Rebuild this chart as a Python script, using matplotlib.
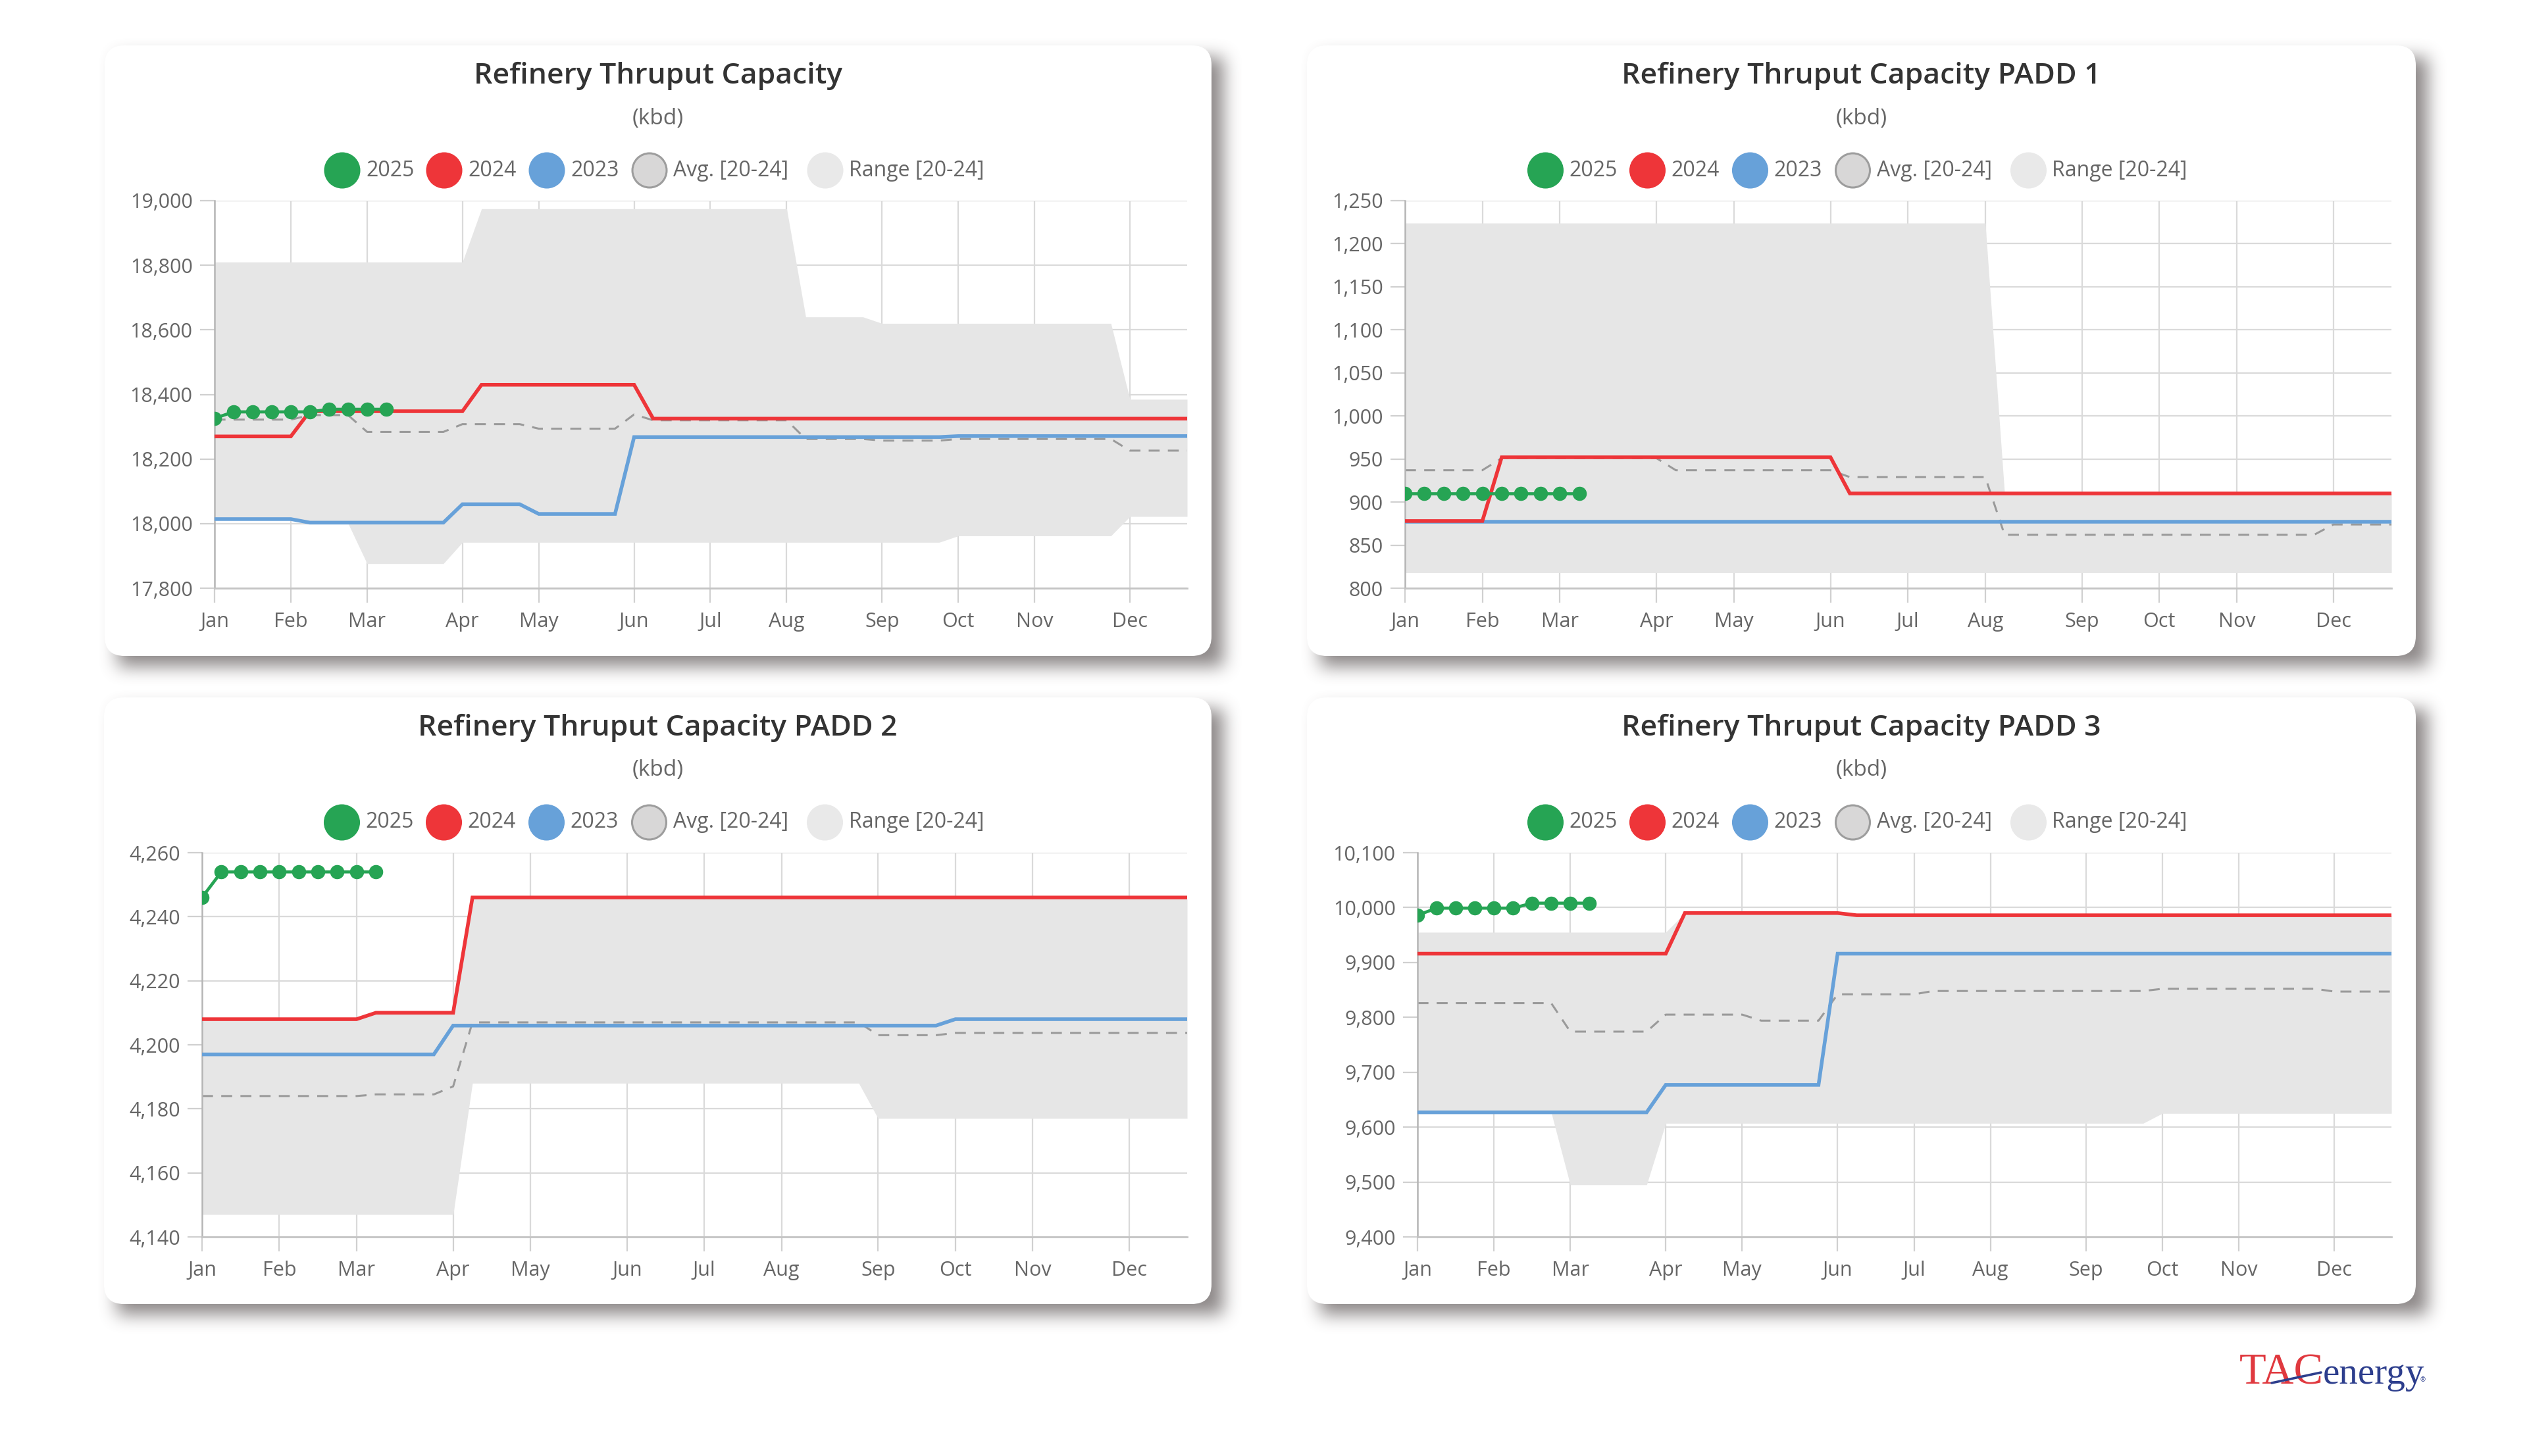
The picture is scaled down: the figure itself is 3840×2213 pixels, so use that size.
import numpy as np
import matplotlib
matplotlib.use("Agg")
import matplotlib.pyplot as plt
from matplotlib.patches import FancyBboxPatch, Circle
from matplotlib.transforms import IdentityTransform
from matplotlib.lines import Line2D

plt.rcParams['font.family'] = ['Open Sans', 'DejaVu Sans']
plt.rcParams['lines.scale_dashes'] = False

W, H = 3840, 2213

months = ['Jan', 'Feb', 'Mar', 'Apr', 'May', 'Jun', 'Jul', 'Aug', 'Sep', 'Oct', 'Nov', 'Dec']
month_weeks = [0, 4, 8, 13, 17, 22, 26, 30, 35, 39, 43, 48]
weeks = np.arange(52)
weeks_2025 = np.arange(10)

# ---- US total ----
us_upper = [18810, 18810, 18810, 18810, 18810, 18810, 18810, 18810, 18810, 18810, 18810, 18810, 18810,
            18810, 18975, 18975, 18975, 18975, 18975, 18975, 18975, 18975, 18975, 18975, 18975, 18975,
            18975, 18975, 18975, 18975, 18975, 18640, 18640, 18640, 18640, 18620, 18620, 18620, 18620,
            18620, 18620, 18620, 18620, 18620, 18620, 18620, 18620, 18620, 18385, 18385, 18385, 18385]
us_lower = [18012, 18012, 18012, 18012, 18012, 18001, 18001, 18001, 17876, 17876, 17876, 17876, 17876,
            17942, 17942, 17942, 17942, 17942, 17942, 17942, 17942, 17942, 17942, 17942, 17942, 17942,
            17942, 17942, 17942, 17942, 17942, 17942, 17942, 17942, 17942, 17942, 17942, 17942, 17942,
            17962, 17962, 17962, 17962, 17962, 17962, 17962, 17962, 17962, 18022, 18022, 18022, 18022]
us_2024 = [18270, 18270, 18270, 18270, 18270, 18348, 18348, 18348, 18348, 18348, 18348, 18348, 18348,
           18348, 18430, 18430, 18430, 18430, 18430, 18430, 18430, 18430, 18430, 18325, 18325, 18325,
           18325, 18325, 18325, 18325, 18325, 18325, 18325, 18325, 18325, 18325, 18325, 18325, 18325,
           18325, 18325, 18325, 18325, 18325, 18325, 18325, 18325, 18325, 18325, 18325, 18325, 18325]
us_2023 = [18014, 18014, 18014, 18014, 18014, 18003, 18003, 18003, 18003, 18003, 18003, 18003, 18003,
           18060, 18060, 18060, 18060, 18030, 18030, 18030, 18030, 18030, 18268, 18268, 18268, 18268,
           18268, 18268, 18268, 18268, 18268, 18268, 18268, 18268, 18268, 18268, 18268, 18268, 18268,
           18271, 18271, 18271, 18271, 18271, 18271, 18271, 18271, 18271, 18271, 18271, 18271, 18271]
us_avg = [18322, 18322, 18322, 18322, 18322, 18336, 18336, 18336, 18284, 18284, 18284, 18284, 18284,
          18308, 18308, 18308, 18308, 18294, 18294, 18294, 18294, 18294, 18338, 18320, 18320, 18320,
          18320, 18320, 18320, 18320, 18320, 18262, 18262, 18262, 18262, 18257, 18257, 18257, 18257,
          18262, 18262, 18262, 18262, 18262, 18262, 18262, 18262, 18262, 18226, 18226, 18226, 18226]
us_2025 = [18326, 18346, 18346, 18346, 18346, 18346, 18354, 18354, 18354, 18354]

# ---- PADD 1 ----
p1_upper = [1224, 1224, 1224, 1224, 1224, 1224, 1224, 1224, 1224, 1224, 1224, 1224, 1224,
            1224, 1224, 1224, 1224, 1224, 1224, 1224, 1224, 1224, 1224, 1224, 1224, 1224,
            1224, 1224, 1224, 1224, 1224, 910, 910, 910, 910, 910, 910, 910, 910,
            910, 910, 910, 910, 910, 910, 910, 910, 910, 910, 910, 910, 910]
p1_lower = [818, 818, 818, 818, 818, 818, 818, 818, 818, 818, 818, 818, 818,
            818, 818, 818, 818, 818, 818, 818, 818, 818, 818, 818, 818, 818,
            818, 818, 818, 818, 818, 818, 818, 818, 818, 818, 818, 818, 818,
            818, 818, 818, 818, 818, 818, 818, 818, 818, 818, 818, 818, 818]
p1_2024 = [878, 878, 878, 878, 878, 952, 952, 952, 952, 952, 952, 952, 952,
           952, 952, 952, 952, 952, 952, 952, 952, 952, 952, 910, 910, 910,
           910, 910, 910, 910, 910, 910, 910, 910, 910, 910, 910, 910, 910,
           910, 910, 910, 910, 910, 910, 910, 910, 910, 910, 910, 910, 910]
p1_2023 = [877, 877, 877, 877, 877, 877, 877, 877, 877, 877, 877, 877, 877,
           877, 877, 877, 877, 877, 877, 877, 877, 877, 877, 877, 877, 877,
           877, 877, 877, 877, 877, 877, 877, 877, 877, 877, 877, 877, 877,
           877, 877, 877, 877, 877, 877, 877, 877, 877, 877, 877, 877, 877]
p1_avg = [937, 937, 937, 937, 937, 951, 951, 951, 951, 951, 951, 951, 951,
          951, 937, 937, 937, 937, 937, 937, 937, 937, 937, 929, 929, 929,
          929, 929, 929, 929, 929, 862, 862, 862, 862, 862, 862, 862, 862,
          862, 862, 862, 862, 862, 862, 862, 862, 862, 874, 874, 874, 874]
p1_2025 = [910, 910, 910, 910, 910, 910, 910, 910, 910, 910]

# ---- PADD 2 ----
p2_upper = [4208, 4208, 4208, 4208, 4208, 4208, 4208, 4208, 4208, 4210, 4210, 4210, 4210,
            4210, 4245.5, 4245.5, 4245.5, 4245.5, 4245.5, 4245.5, 4245.5, 4245.5, 4245.5, 4245.5, 4245.5, 4245.5,
            4245.5, 4245.5, 4245.5, 4245.5, 4245.5, 4245.5, 4245.5, 4245.5, 4245.5, 4245.5, 4245.5, 4245.5, 4245.5,
            4245.5, 4245.5, 4245.5, 4245.5, 4245.5, 4245.5, 4245.5, 4245.5, 4245.5, 4245.5, 4245.5, 4245.5, 4245.5]
p2_lower = [4147, 4147, 4147, 4147, 4147, 4147, 4147, 4147, 4147, 4147, 4147, 4147, 4147,
            4147, 4188, 4188, 4188, 4188, 4188, 4188, 4188, 4188, 4188, 4188, 4188, 4188,
            4188, 4188, 4188, 4188, 4188, 4188, 4188, 4188, 4188, 4177, 4177, 4177, 4177,
            4177, 4177, 4177, 4177, 4177, 4177, 4177, 4177, 4177, 4177, 4177, 4177, 4177]
p2_2024 = [4208, 4208, 4208, 4208, 4208, 4208, 4208, 4208, 4208, 4210, 4210, 4210, 4210,
           4210, 4246, 4246, 4246, 4246, 4246, 4246, 4246, 4246, 4246, 4246, 4246, 4246,
           4246, 4246, 4246, 4246, 4246, 4246, 4246, 4246, 4246, 4246, 4246, 4246, 4246,
           4246, 4246, 4246, 4246, 4246, 4246, 4246, 4246, 4246, 4246, 4246, 4246, 4246]
p2_2023 = [4197, 4197, 4197, 4197, 4197, 4197, 4197, 4197, 4197, 4197, 4197, 4197, 4197,
           4206, 4206, 4206, 4206, 4206, 4206, 4206, 4206, 4206, 4206, 4206, 4206, 4206,
           4206, 4206, 4206, 4206, 4206, 4206, 4206, 4206, 4206, 4206, 4206, 4206, 4206,
           4208, 4208, 4208, 4208, 4208, 4208, 4208, 4208, 4208, 4208, 4208, 4208, 4208]
p2_avg = [4184, 4184, 4184, 4184, 4184, 4184, 4184, 4184, 4184, 4184.5, 4184.5, 4184.5, 4184.5,
          4187, 4207, 4207, 4207, 4207, 4207, 4207, 4207, 4207, 4207, 4207, 4207, 4207,
          4207, 4207, 4207, 4207, 4207, 4207, 4207, 4207, 4207, 4203, 4203, 4203, 4203,
          4203.7, 4203.7, 4203.7, 4203.7, 4203.7, 4203.7, 4203.7, 4203.7, 4203.7, 4203.7, 4203.7, 4203.7, 4203.7]
p2_2025 = [4246, 4254, 4254, 4254, 4254, 4254, 4254, 4254, 4254, 4254]

# ---- PADD 3 ----
p3_upper = [9955, 9955, 9955, 9955, 9955, 9955, 9955, 9955, 9955, 9955, 9955, 9955, 9955,
            9955, 9990, 9990, 9990, 9990, 9990, 9990, 9990, 9990, 9990, 9986, 9986, 9986,
            9986, 9986, 9986, 9986, 9986, 9986, 9986, 9986, 9986, 9986, 9986, 9986, 9986,
            9986, 9986, 9986, 9986, 9986, 9986, 9986, 9986, 9986, 9986, 9986, 9986, 9986]
p3_lower = [9627, 9627, 9627, 9627, 9627, 9627, 9627, 9627, 9495, 9495, 9495, 9495, 9495,
            9607, 9607, 9607, 9607, 9607, 9607, 9607, 9607, 9607, 9607, 9607, 9607, 9607,
            9607, 9607, 9607, 9607, 9607, 9607, 9607, 9607, 9607, 9607, 9607, 9607, 9607,
            9625, 9625, 9625, 9625, 9625, 9625, 9625, 9625, 9625, 9625, 9625, 9625, 9625]
p3_2024 = [9916, 9916, 9916, 9916, 9916, 9916, 9916, 9916, 9916, 9916, 9916, 9916, 9916,
           9916, 9990, 9990, 9990, 9990, 9990, 9990, 9990, 9990, 9990, 9986, 9986, 9986,
           9986, 9986, 9986, 9986, 9986, 9986, 9986, 9986, 9986, 9986, 9986, 9986, 9986,
           9986, 9986, 9986, 9986, 9986, 9986, 9986, 9986, 9986, 9986, 9986, 9986, 9986]
p3_2023 = [9627, 9627, 9627, 9627, 9627, 9627, 9627, 9627, 9627, 9627, 9627, 9627, 9627,
           9677, 9677, 9677, 9677, 9677, 9677, 9677, 9677, 9677, 9916, 9916, 9916, 9916,
           9916, 9916, 9916, 9916, 9916, 9916, 9916, 9916, 9916, 9916, 9916, 9916, 9916,
           9916, 9916, 9916, 9916, 9916, 9916, 9916, 9916, 9916, 9916, 9916, 9916, 9916]
p3_avg = [9826, 9826, 9826, 9826, 9826, 9826, 9826, 9826, 9774, 9774, 9774, 9774, 9774,
          9805, 9805, 9805, 9805, 9805, 9794, 9794, 9794, 9794, 9842, 9842, 9842, 9842,
          9842, 9848, 9848, 9848, 9848, 9848, 9848, 9848, 9848, 9848, 9848, 9848, 9848,
          9852, 9852, 9852, 9852, 9852, 9852, 9852, 9852, 9852, 9847, 9847, 9847, 9847]
p3_2025 = [9986, 9999, 9999, 9999, 9999, 9999, 10008, 10008, 10008, 10008]

panels = [
    ('Refinery Thruput Capacity', us_upper, us_lower, us_2024, us_2023, us_avg, us_2025,
     (17800, 19000), np.arange(17800, 19001, 200)),
    ('Refinery Thruput Capacity PADD 1', p1_upper, p1_lower, p1_2024, p1_2023, p1_avg, p1_2025,
     (800, 1250), np.arange(800, 1251, 50)),
    ('Refinery Thruput Capacity PADD 2', p2_upper, p2_lower, p2_2024, p2_2023, p2_avg, p2_2025,
     (4140, 4260), np.arange(4140, 4261, 20)),
    ('Refinery Thruput Capacity PADD 3', p3_upper, p3_lower, p3_2024, p3_2023, p3_avg, p3_2025,
     (9400, 10100), np.arange(9400, 10101, 100)),
]

# card boxes (x0, y0, x1, y1) and plot areas (left, top, right, bottom) in pixels
cards = [(159, 69, 1841, 997), (1986, 69, 3671, 997),
         (158, 1060, 1841, 1982), (1986, 1060, 3671, 1982)]
plot_areas = [(326, 305, 1804, 894), (2135, 305, 3634, 894),
              (307, 1296, 1804, 1880), (2154, 1296, 3634, 1880)]

GREEN = '#26a454'
RED = '#ee3539'
BLUE = '#67a1d9'
AVG = '#9a9a9a'
FILL = '#e6e6e6'

fig = plt.figure(figsize=(W / 100, H / 100), dpi=100)
fig.patch.set_facecolor('white')


def blur1d(a, r, axis):
    a = np.moveaxis(a, axis, -1)
    p = np.pad(a, [(0, 0), (r + 1, r)], mode='edge')
    c = np.cumsum(p, axis=-1)
    out = (c[:, 2 * r + 1:] - c[:, :-2 * r - 1]) / (2 * r + 1)
    return np.moveaxis(out, -1, axis)


# drop shadows
mask = np.zeros((H, W))
for x0, y0, x1, y1 in cards:
    mask[y0 + 18:y1 + 16, x0 + 20:x1 + 18] = 1.0
for _ in range(3):
    mask = blur1d(mask, 12, 1)
    mask = blur1d(mask, 12, 0)
shadow = np.zeros((H, W, 4))
shadow[..., 0] = 0.36
shadow[..., 1] = 0.33
shadow[..., 2] = 0.33
shadow[..., 3] = np.clip(mask * 0.7, 0, 1)
fig.figimage(shadow, xo=0, yo=0, origin='upper', zorder=0)

for x0, y0, x1, y1 in cards:
    fig.add_artist(FancyBboxPatch((x0, H - y1), x1 - x0, y1 - y0,
                                  boxstyle='round,pad=0,rounding_size=30',
                                  transform=IdentityTransform(), fc='white', ec='none', zorder=1))


def fx(x):
    return x / W


def fy(y):
    return 1 - y / H


legend_items = [(-480, GREEN, GREEN, '2025'), (-325, RED, RED, '2024'), (-169, BLUE, BLUE, '2023'),
                (-13, '#d8d7d7', '#9d9d9d', 'Avg. [20-24]'), (254, '#e9e9e9', '#e9e9e9', 'Range [20-24]')]

for i, (title, upper, lower, s2024, s2023, avg, s2025, ylim, yticks) in enumerate(panels):
    x0, y0, x1, y1 = cards[i]
    cx = (x0 + x1) / 2
    fig.text(fx(cx), fy(y0 + 46), title, ha='center', va='center', fontsize=32,
             fontweight='semibold', color='#333333', zorder=3)
    fig.text(fx(cx), fy(y0 + 111), '(kbd)', ha='center', va='center', fontsize=24,
             color='#666666', zorder=3)
    ly = y0 + 190
    for off, fc, ec, lab in legend_items:
        fig.add_artist(Circle((cx + off, H - ly), 26, transform=IdentityTransform(),
                              fc=fc, ec=ec, lw=2.2, zorder=3))
        fig.text(fx(cx + off + 36), fy(ly), lab, ha='left', va='center', fontsize=23,
                 color='#666666', zorder=3)

    l, t, r, b = plot_areas[i]
    ax = fig.add_axes([l / W, 1 - b / H, (r - l) / W, (b - t) / H])
    ax.set_zorder(2)
    ax.patch.set_alpha(0)
    ax.fill_between(weeks, lower, upper, color=FILL, lw=0, zorder=1)
    ax.plot(weeks, avg, color=AVG, lw=2.2, dashes=(12, 9), zorder=2)
    ax.plot(weeks, s2023, color=BLUE, lw=4.0, zorder=3, solid_joinstyle='miter')
    ax.plot(weeks, s2024, color=RED, lw=4.0, zorder=4, solid_joinstyle='miter')
    ax.plot(weeks_2025, s2025, color=GREEN, lw=3.4, marker='o', ms=14.5, zorder=5)

    ax.set_xlim(0, 51)
    ax.set_ylim(*ylim)
    ax.set_xticks(month_weeks)
    ax.set_xticklabels(months)
    ax.set_yticks(yticks)
    ax.set_yticklabels([f'{v:,}' for v in yticks])
    ax.set_axisbelow(True)
    ax.grid(True, color='#dadada', lw=1.6)
    for s in ['top', 'right']:
        ax.spines[s].set_visible(False)
    ax.spines['left'].set_color('#b5b5b5')
    ax.spines['left'].set_linewidth(1.8)
    ax.spines['bottom'].set_color('#c4c4c4')
    ax.spines['bottom'].set_linewidth(2.0)
    ax.tick_params(axis='both', length=16, width=1.6, color='#d0d0d0',
                   labelsize=22, labelcolor='#666666')
    ax.tick_params(axis='x', pad=10)
    ax.tick_params(axis='y', pad=8)

# logo
fig.text(fx(3403), fy(2103), 'TAC', fontsize=48, color='#e0393f', family='Liberation Serif',
         ha='left', va='baseline', zorder=3)
fig.text(fx(3530), fy(2103), 'energy', fontsize=41, color='#2d3e8d', family='Liberation Serif',
         ha='left', va='baseline', zorder=3)
fig.text(fx(3678), fy(2100), '®', fontsize=7, color='#2d3e8d', ha='left', va='baseline', zorder=3)
fig.add_artist(Line2D([3452, 3527], [H - 2102, H - 2086], transform=IdentityTransform(),
                      color='#2d3e8d', lw=2.6, solid_capstyle='round', zorder=4))

fig.savefig('out.png', dpi=100)
